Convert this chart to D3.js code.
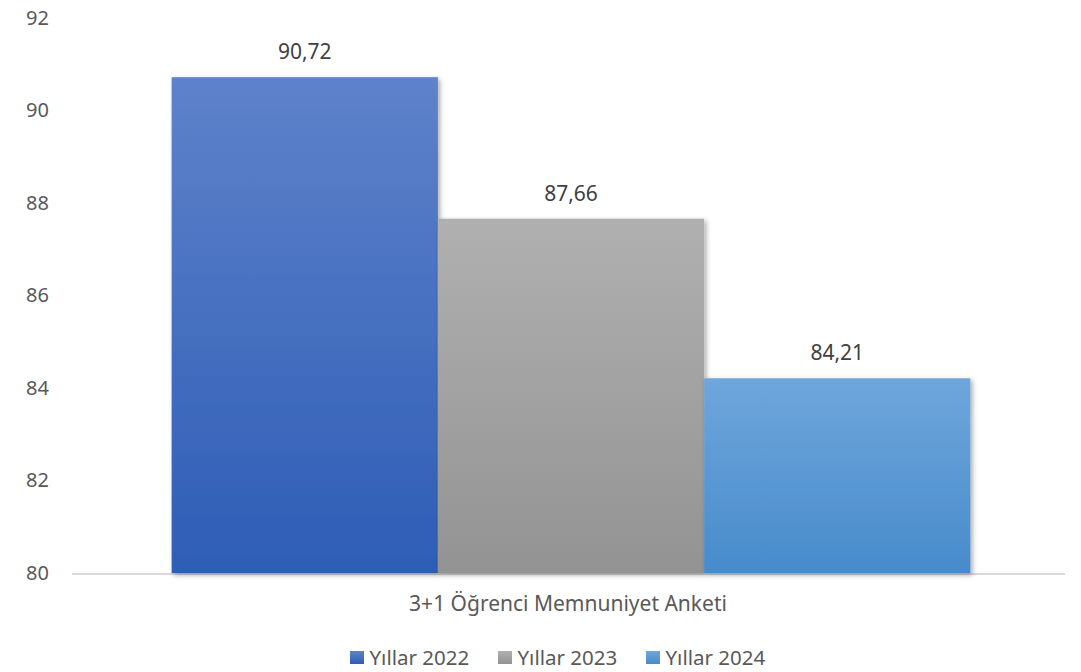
<!DOCTYPE html>
<html><head><meta charset="utf-8">
<script src="https://cdn.jsdelivr.net/npm/d3@7"></script>
<style>body{margin:0;background:#fff;} svg{display:block;}</style>
</head><body>
<svg id="c" width="1081" height="672"></svg>
<script>
const category = "3+1 Öğrenci Memnuniyet Anketi";
const seriesNames = ["Yıllar 2022", "Yıllar 2023", "Yıllar 2024"];
const seriesValues = [90.72, 87.66, 84.21];
const yTicks = [80, 82, 84, 86, 88, 90, 92];
const colorsTop = ["#5e82ca", "#b0b0b0", "#6fa6db"];
const colorsBottom = ["#2e5db6", "#939393", "#478bcb"];

const svg = d3.select("#c");
const W = 1081, H = 672;
const m = {left: 72, right: 17, top: 18, bottom: 99};
const x0 = d3.scaleBand().domain([category]).range([m.left + 3, W - m.right + 3]).paddingInner(0).paddingOuter(0.121);
const x1 = d3.scaleBand().domain(seriesNames).range([0, x0.bandwidth()]).padding(0);
const y = d3.scaleLinear().domain([80, 92]).range([H - m.bottom, m.top]);

const defs = svg.append("defs");
seriesNames.forEach((s, i) => {
  const g = defs.append("linearGradient").attr("id", "g" + i).attr("x1", 0).attr("y1", 0).attr("x2", 0).attr("y2", 1);
  g.append("stop").attr("offset", "0%").attr("stop-color", colorsTop[i]);
  g.append("stop").attr("offset", "100%").attr("stop-color", colorsBottom[i]);
});
const f = defs.append("filter").attr("id", "sh").attr("x", "-10%").attr("y", "-10%").attr("width", "130%").attr("height", "130%");
f.append("feDropShadow").attr("dx", 2).attr("dy", 2).attr("stdDeviation", 2.5).attr("flood-color", "#000").attr("flood-opacity", 0.35);

const font = "'Noto Sans', 'Open Sans', sans-serif";
const txt = "#595959";

// y axis labels
const yAxis = d3.axisLeft(y).tickValues(yTicks).tickSize(0).tickPadding(0).tickFormat(d3.format("d"));
const ya = svg.append("g").attr("transform", `translate(49,0)`).call(yAxis);
ya.select(".domain").remove();
ya.selectAll("text").attr("font-family", font).attr("font-size", 20).attr("fill", txt);

// baseline
svg.append("line").attr("x1", m.left).attr("x2", W - m.right + 1).attr("y1", y(80) + 1).attr("y2", y(80) + 1)
  .attr("stroke", "#d9d9d9").attr("stroke-width", 2);

// bars
const gBars = svg.append("g").attr("transform", `translate(${x0(category)},0)`);
gBars.selectAll("rect").data(seriesValues).join("rect")
  .attr("x", (d, i) => x1(seriesNames[i]))
  .attr("width", x1.bandwidth())
  .attr("y", d => y(d))
  .attr("height", d => y(80) - y(d))
  .attr("fill", (d, i) => `url(#g${i})`)
  .attr("filter", "url(#sh)");

gBars.selectAll("text.v").data(seriesValues).join("text").attr("class", "v")
  .attr("x", (d, i) => x1(seriesNames[i]) + x1.bandwidth() / 2)
  .attr("y", d => y(d) - 18)
  .attr("text-anchor", "middle")
  .attr("font-family", font).attr("font-size", 21).attr("fill", "#404040")
  .text(d => d.toFixed(2).replace(".", ","));

// x axis label
svg.append("text").attr("x", x0(category) + x0.bandwidth() / 2 - 3).attr("y", 611)
  .attr("text-anchor", "middle").attr("font-family", font).attr("font-size", 21).attr("fill", txt)
  .text(category);

// legend
const legX = [350, 498, 646];
const lg = svg.append("g");
seriesNames.forEach((s, i) => {
  lg.append("rect").attr("x", legX[i]).attr("y", 651).attr("width", 14).attr("height", 13).attr("fill", `url(#g${i})`);
  lg.append("text").attr("x", legX[i] + 19.5).attr("y", 665).attr("font-family", font).attr("font-size", 20.5).attr("fill", txt).text(s);
});
</script>
</body></html>
